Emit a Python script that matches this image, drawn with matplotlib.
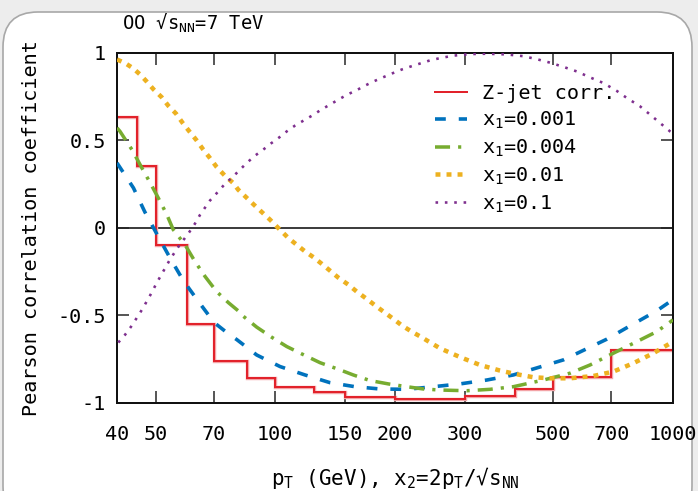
import matplotlib
matplotlib.use("Agg")
import matplotlib.pyplot as plt
from matplotlib.patches import FancyBboxPatch

plt.rcParams['font.family'] = ['DejaVu Sans Mono', 'DejaVu Sans']
plt.rcParams['mathtext.fontset'] = 'custom'
plt.rcParams['mathtext.rm'] = 'DejaVu Sans Mono'
plt.rcParams['mathtext.it'] = 'DejaVu Sans Mono'
plt.rcParams['mathtext.bf'] = 'DejaVu Sans Mono:bold'

# Z-jet correlation per pT bin
zjet_edges = [40, 45, 50, 60, 70, 85, 100, 125, 150, 200, 300, 400, 500, 700, 1000]
zjet_corr = [0.63, 0.35, -0.10, -0.55, -0.76, -0.86, -0.91, -0.94,
             -0.964, -0.976, -0.96, -0.918, -0.85, -0.70]

# x1 = 0.001
pt_x1_0001 = [40, 44.0, 47.0, 50.5, 54.4, 58.7, 64.1, 70.2, 76.9, 80.0, 89.8, 102.8,
              118.8, 137.3, 158.7, 183.4, 214.1, 249.7, 291.4, 340.1, 396.8, 454.3,
              530.1, 681.4, 779.6, 910.0, 1000]
r_x1_0001 = [0.37, 0.227, 0.09, -0.04, -0.173, -0.301, -0.421, -0.541, -0.612, -0.638,
             -0.726, -0.792, -0.84, -0.884, -0.907, -0.92, -0.922, -0.907, -0.891,
             -0.869, -0.84, -0.80, -0.754, -0.636, -0.56, -0.474, -0.41]

# x1 = 0.004
pt_x1_0004 = [40, 40.7, 43.6, 46.2, 48.4, 50.8, 53.3, 55.4, 59.3, 62.8, 66.6, 71.2,
              76.2, 80.7, 83.1, 89.8, 98.0, 106.9, 116.6, 129.6, 145.5, 157.1, 173.1,
              192.4, 214.1, 235.6, 259.6, 303.0, 346.6, 396.8, 472.0, 550.9, 618.6,
              707.8, 810.6, 910.0, 1000]
r_x1_0004 = [0.57, 0.55, 0.446, 0.341, 0.259, 0.17, 0.078, -0.011, -0.097, -0.192,
             -0.278, -0.364, -0.427, -0.474, -0.505, -0.567, -0.625, -0.678, -0.72,
             -0.77, -0.811, -0.84, -0.872, -0.891, -0.907, -0.92, -0.926, -0.93,
             -0.922, -0.907, -0.869, -0.83, -0.783, -0.716, -0.65, -0.593, -0.526]

# x1 = 0.01
pt_x1_001 = [40, 41.9, 43.9, 45.7, 47.6, 49.4, 51.8, 53.8, 56.3, 58.5, 60.8, 63.4,
             65.9, 68.5, 71.2, 74.7, 78.4, 80.7, 88.5, 97.0, 101.8, 107.9, 113.2,
             118.8, 124.7, 130.9, 137.3, 144.1, 152.7, 160.2, 169.8, 178.2, 186.9,
             198.1, 208.0, 220.3, 233.4, 242.5, 259.6, 291.4, 327.1, 367.3, 404.7,
             445.5, 490.8, 550.9, 630.4, 707.8, 794.7, 892.4, 1000]
r_x1_001 = [0.96, 0.94, 0.91, 0.875, 0.832, 0.79, 0.745, 0.697, 0.651, 0.598, 0.55,
            0.499, 0.446, 0.398, 0.347, 0.297, 0.255, 0.217, 0.13, 0.046, -0.002,
            -0.059, -0.097, -0.135, -0.168, -0.206, -0.245, -0.285, -0.325, -0.364,
            -0.406, -0.443, -0.478, -0.52, -0.557, -0.593, -0.625, -0.648, -0.688,
            -0.738, -0.783, -0.815, -0.836, -0.853, -0.859, -0.859, -0.846, -0.821,
            -0.773, -0.716, -0.65]

# x1 = 0.1
pt_x1_01 = [40.3, 41.9, 43.4, 44.8, 46.3, 48.9, 50.3, 52.1, 54.4, 57.0, 60.7, 62.8,
            64.7, 68.5, 71.9, 74.7, 78.4, 81.5, 84.8, 88.9, 93.3, 97.4, 102.4, 106.9,
            112.1, 118.1, 124.2, 130.1, 137.3, 144.1, 151.8, 160.2, 168.1, 177.1,
            186.9, 197.4, 208.0, 220.3, 233.4, 244.9, 259.6, 280.3, 308.8, 340.1,
            382.0, 420.4, 454.3, 490.8, 530.1, 572.8, 618.6, 668.1, 721.9, 764.9,
            826.2, 875.4, 927.6, 983, 1000]
r_x1_01 = [-0.655, -0.611, -0.564, -0.516, -0.465, -0.37, -0.316, -0.255, -0.18,
           -0.11, -0.027, 0.023, 0.074, 0.155, 0.207, 0.25, 0.293, 0.331, 0.37,
           0.411, 0.446, 0.48, 0.516, 0.55, 0.583, 0.613, 0.642, 0.672, 0.703, 0.731,
           0.76, 0.785, 0.811, 0.836, 0.859, 0.882, 0.903, 0.922, 0.94, 0.955, 0.968,
           0.982, 0.991, 0.993, 0.989, 0.979, 0.962, 0.942, 0.918, 0.892, 0.858, 0.826,
           0.781, 0.741, 0.693, 0.646, 0.598, 0.55, 0.54]

xtick_values = [40, 50, 70, 100, 150, 200, 300, 500, 700, 1000]
xtick_labels = ['40', '50', '70', '100', '150', '200', '300', '500', '700', '1000']
ytick_values = [-1, -0.5, 0, 0.5, 1]
ytick_labels = ['-1', '-0.5', '0', '0.5', '1']

W, H = 698, 491
fig = plt.figure(figsize=(W / 100, H / 100), dpi=100, facecolor='#ededed')

# white rounded card behind the plot
card = FancyBboxPatch((0.03, -0.3), 6.89, 5.09,
                      boxstyle='round,pad=0,rounding_size=0.35',
                      transform=fig.dpi_scale_trans, facecolor='white',
                      edgecolor='#a8a8a8', linewidth=1.2, zorder=-5)
fig.patches.append(card)

ax = fig.add_axes([117 / W, 1 - 403 / H, (673 - 117) / W, (403 - 52.5) / H])
ax.set_zorder(2)
ax.set_facecolor('white')

px = 0.72  # points per pixel at 100 dpi

ax.axhline(0, color='black', lw=1.5 * px, zorder=1)

ax.stairs(zjet_corr, zjet_edges, baseline=None, color='#f3a3a6', lw=3.4 * px, zorder=2)
ax.stairs(zjet_corr, zjet_edges, baseline=None, color='#e2222b', lw=2.0 * px,
          zorder=2.1, label='Z-jet corr.')

ax.plot(pt_x1_0001, r_x1_0001, color='#0072bd', lw=3.6 * px,
        linestyle=(0, (3.0, 3.6)), dash_capstyle='butt', zorder=3,
        label='x$_1$=0.001')
ax.plot(pt_x1_0004, r_x1_0004, color='#77ac30', lw=3.5 * px,
        linestyle=(0, (4.3, 2.3, 0.9, 2.3)), dash_capstyle='butt', zorder=3,
        label='x$_1$=0.004')
ax.plot(pt_x1_001, r_x1_001, color='#edb120', lw=4.5 * px,
        linestyle=(0, (1.1, 1.35)), dash_capstyle='butt', zorder=3,
        label='x$_1$=0.01')
ax.plot(pt_x1_01, r_x1_01, color='#7e2f8e', lw=2.6 * px,
        linestyle=(0, (1.0, 2.6)), dash_capstyle='butt', zorder=3,
        label='x$_1$=0.1')

ax.set_xscale('log')
ax.set_xlim(40, 1000)
ax.set_ylim(-1, 1)
ax.set_xticks(xtick_values)
ax.set_xticklabels(xtick_labels)
ax.xaxis.set_minor_locator(matplotlib.ticker.NullLocator())
ax.set_yticks(ytick_values)
ax.set_yticklabels(ytick_labels)

ax.tick_params(axis='both', which='major', direction='in', top=True, right=True,
               length=12 * px, width=1.5 * px, color='#222222', labelsize=14.5)
ax.tick_params(axis='x', pad=16)
ax.tick_params(axis='y', pad=8)
for s in ax.spines.values():
    s.set_linewidth(2.0 * px)
    s.set_color('#111111')

fig.text(32 / W, 1 - 228 / H, 'Pearson correlation coefficient', rotation=90,
         ha='center', va='center', fontsize=14.5)
fig.text(395 / W, 6 / H, 'p$_{\\rm T}$ (GeV), x$_2$=2p$_{\\rm T}$/√s$_{\\rm NN}$',
         ha='center', va='baseline', fontsize=15)
fig.text(122 / W, 1 - 30 / H, 'OO √s$_{\\rm NN}$=7 TeV', ha='left', va='baseline',
         fontsize=13.5)

leg = ax.legend(loc='upper left', bbox_to_anchor=((435 - 117) / 556, (403 - 84) / 350.5),
                frameon=False, fontsize=14.5, handlelength=1.6, handletextpad=0.75,
                labelspacing=0.33, borderpad=0, borderaxespad=0)

fig.savefig('out.png', dpi=100, facecolor=fig.get_facecolor())
